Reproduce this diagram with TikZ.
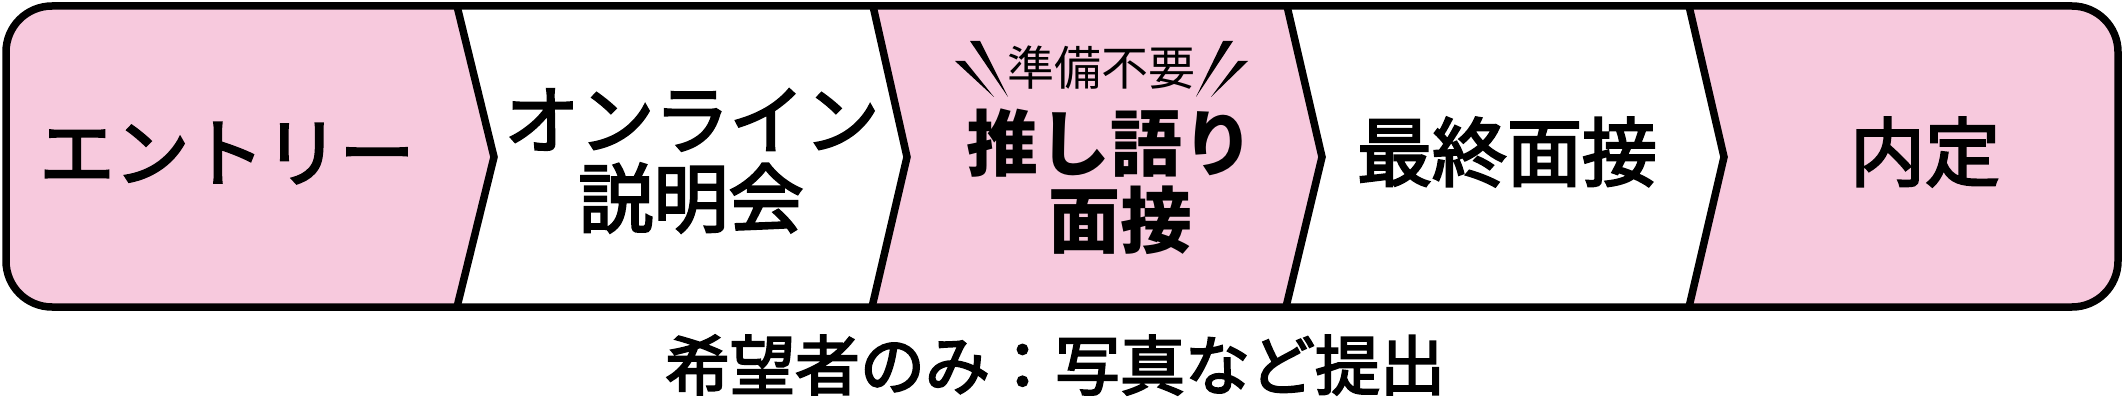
\documentclass[tikz,border=0pt]{standalone}
\usepackage{fontspec}
\setmainfont{Noto Sans CJK JP}
\newfontfamily\jpmed{Noto Sans CJK JP}[FakeBold=3]
\definecolor{pinkfill}{RGB}{247,201,221}
\begin{document}
\begin{tikzpicture}[x=1pt,y=-1pt,line join=miter]
\tikzset{
  border/.style={line width=7.5pt,draw=black},
  lbl/.style={font=\jpmed\fontsize{75}{78}\selectfont,inner sep=0pt},
  heavylbl/.style={font=\bfseries\fontsize{72}{76}\selectfont,inner sep=0pt},
  smalllbl/.style={font=\fontsize{47}{50}\selectfont,inner sep=0pt},
  notelbl/.style={font=\jpmed\fontsize{65}{66}\selectfont,inner sep=0pt},
  wedge/.style={fill=black,draw=none}
}
\useasboundingbox (0,0) rectangle (2124,409);
% fills
\begin{scope}
  \clip[rounded corners=46pt] (6,6) rectangle (2118,307);
  \fill[pinkfill] (0,0) -- (457,6) -- (494,157) -- (457,307) -- (0,320) -- cycle;
  \fill[pinkfill] (873,6) -- (907,157) -- (872,307) -- (1286,307) -- (1322,157) -- (1287,6) -- cycle;
  \fill[pinkfill] (1689,6) -- (1724,157) -- (1689,307) -- (2130,320) -- (2130,0) -- cycle;
\end{scope}
% chevron separators
\draw[border] (457,6) -- (494,157) -- (457,307);
\draw[border] (873,6) -- (907,157) -- (872,307);
\draw[border] (1287,6) -- (1322,157) -- (1286,307);
\draw[border] (1689,6) -- (1724,157) -- (1689,307);
% outer frame
\draw[border,rounded corners=46pt] (6,6) rectangle (2118,307);
% decorative wedges
\fill[wedge] (970,41) -- (980,41) -- (1008,97) -- cycle;
\fill[wedge] (955,61) -- (965,61) -- (994,97) -- cycle;
\fill[wedge] (1223,41) -- (1233,41) -- (1196,97) -- cycle;
\fill[wedge] (1238,61) -- (1248,61) -- (1211,97) -- cycle;
% labels
\node[lbl] (entry) at (227,153) {エントリー};
\node[lbl] (online) at (692,120) {オンライン};
\node[lbl] (setsumei) at (691,198) {説明会};
\node[smalllbl] (junbi) at (1101,68) {準備不要};
\node[heavylbl] (oshi) at (1110,143) {推し語り};
\node[heavylbl] (mensetsu) at (1120,220) {面接};
\node[lbl] (saishu) at (1507,152) {最終面接};
\node[lbl] (naitei) at (1925,152) {内定};
\node[notelbl] (note) at (1055,365) {希望者のみ：写真など提出};
\end{tikzpicture}
\end{document}
